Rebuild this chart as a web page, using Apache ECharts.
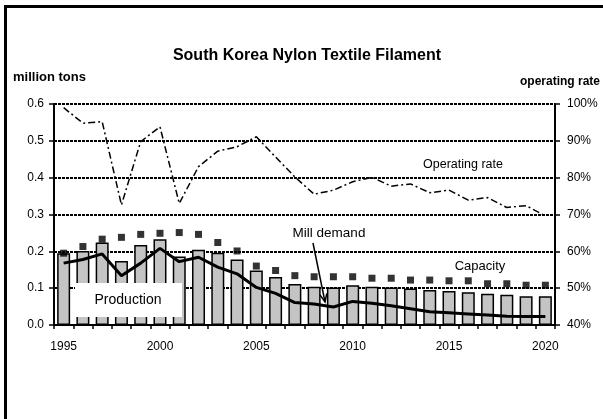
<!DOCTYPE html>
<html><head><meta charset="utf-8">
<script src="https://cdn.jsdelivr.net/npm/echarts@6/dist/echarts.min.js"></script>
<style>html,body{margin:0;padding:0;background:#fff}#c{width:603px;height:419px}</style>
</head><body><div id="c"></div>
<script>
const years = ['1995','1996','1997','1998','1999','2000','2001','2002','2003','2004','2005','2006','2007','2008','2009','2010','2011','2012','2013','2014','2015','2016','2017','2018','2019','2020'];
const production = [0.195,0.201,0.224,0.174,0.217,0.233,0.186,0.204,0.196,0.178,0.148,0.130,0.111,0.104,0.102,0.108,0.104,0.102,0.099,0.095,0.092,0.089,0.085,0.082,0.078,0.078];
const capacity = [0.195,0.213,0.233,0.238,0.246,0.249,0.251,0.246,0.224,0.201,0.160,0.148,0.134,0.131,0.131,0.131,0.127,0.127,0.122,0.122,0.120,0.120,0.112,0.112,0.108,0.108];
const millDemand = [0.168,0.178,0.193,0.134,0.168,0.208,0.172,0.184,0.157,0.139,0.102,0.086,0.061,0.057,0.049,0.064,0.059,0.052,0.044,0.036,0.033,0.030,0.027,0.024,0.023,0.023];
const operatingRate = [99.0,94.8,95.2,72.6,89.8,93.8,73.0,83.0,87.2,88.4,91.1,85.6,80.2,75.5,76.6,78.9,80.1,77.7,78.3,75.9,76.6,73.9,74.6,71.9,72.4,69.6];

const FONT = "'Liberation Sans', Arial, sans-serif";
const chart = echarts.init(document.getElementById('c'));
const txt = (text, x, y, font, align) => ({
  type: 'text', x: x, y: y, z: 100,
  style: { text: text, font: font, fill: '#000', align: align || 'center', verticalAlign: 'middle', textAlign: align || 'center', textVerticalAlign: 'middle' }
});
chart.setOption({
  animation: false,
  grid: { left: 54, right: 48, top: 104, bottom: 94 },
  xAxis: {
    type: 'category', data: years, boundaryGap: true,
    axisLine: { lineStyle: { color: '#000', width: 2 } },
    axisTick: { show: true, interval: 0, length: 4, lineStyle: { color: '#000', width: 1.5 } },
    axisLabel: { interval: 4, margin: 16, color: '#000', fontSize: 12, fontFamily: FONT }
  },
  yAxis: [
    {
      type: 'value', min: 0, max: 0.6, interval: 0.1,
      axisLine: { show: true, lineStyle: { color: '#000', width: 2 } },
      axisTick: { show: true, length: 5, lineStyle: { color: '#000', width: 1.5 } },
      axisLabel: { formatter: v => v.toFixed(1), margin: 10, color: '#000', fontSize: 12, fontFamily: FONT },
      splitLine: { show: true, lineStyle: { color: '#000', width: 2, type: [3, 1] } }
    },
    {
      type: 'value', min: 40, max: 100, interval: 10, position: 'right',
      axisLine: { show: true, lineStyle: { color: '#000', width: 2 } },
      axisTick: { show: true, length: 5, lineStyle: { color: '#000', width: 1.5 } },
      axisLabel: { formatter: '{value}%', margin: 12, color: '#000', fontSize: 12, fontFamily: FONT },
      splitLine: { show: false }
    }
  ],
  series: [
    { name: 'Production', type: 'bar', data: production, barWidth: 13,
      itemStyle: { color: '#c4c4c4', borderColor: '#000', borderWidth: 1.5 } },
    { name: 'Capacity', type: 'scatter', data: capacity, symbol: 'rect', symbolSize: 7,
      itemStyle: { color: '#000' }, z: 5 },
    { name: 'Mill demand', type: 'line', data: millDemand, showSymbol: false,
      lineStyle: { color: '#000', width: 3 }, z: 6 },
    { name: 'Operating rate', type: 'line', yAxisIndex: 1, data: operatingRate, showSymbol: false,
      lineStyle: { color: '#000', width: 1.5, type: [7, 3, 2, 3] }, z: 6 }
  ],
  graphic: [
    { type: 'rect', z: 100, shape: { x: 5.5, y: 6.5, width: 800, height: 800 }, style: { fill: null, stroke: '#000', lineWidth: 3 } },
    txt('South Korea Nylon Textile Filament', 307, 56, 'bold 16px ' + FONT),
    txt('million tons', 13, 77, 'bold 13px ' + FONT, 'left'),
    txt('operating rate', 600, 82, 'bold 12px ' + FONT, 'right'),
    txt('Operating rate', 463, 165, '12.5px ' + FONT),
    txt('Capacity', 480, 266, '13px ' + FONT),
    txt('Mill demand', 329, 233, '13.5px ' + FONT),
    { type: 'line', z: 100, shape: { x1: 313, y1: 243, x2: 325, y2: 302 }, style: { stroke: '#000', lineWidth: 1.5 } },
    { type: 'polyline', z: 100, shape: { points: [[320, 294.9], [325, 302], [326.8, 293.5]] }, style: { stroke: '#000', lineWidth: 1.5, fill: null } },
    { type: 'rect', z: 100, shape: { x: 75, y: 283, width: 107, height: 34 }, style: { fill: '#fff', stroke: null } },
    txt('Production', 128, 300, '14px ' + FONT)
  ]
});
</script>
</body></html>
